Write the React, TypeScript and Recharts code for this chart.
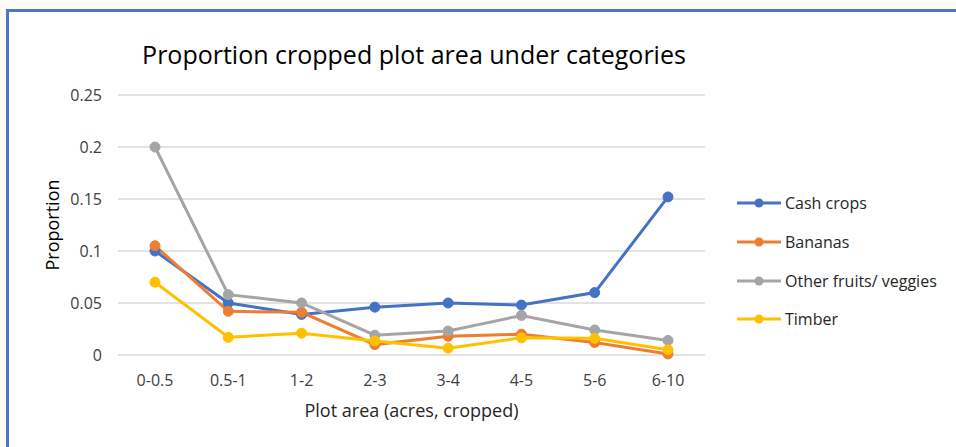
import { LineChart, Line, XAxis, YAxis, CartesianGrid } from 'recharts';

const categories = ['0-0.5', '0.5-1', '1-2', '2-3', '3-4', '4-5', '5-6', '6-10'];
const cashCrops = [0.1, 0.05, 0.039, 0.046, 0.05, 0.048, 0.06, 0.152];
const bananas = [0.105, 0.042, 0.041, 0.01, 0.018, 0.02, 0.012, 0.001];
const otherFruits = [0.2, 0.058, 0.05, 0.019, 0.023, 0.038, 0.024, 0.014];
const timber = [0.07, 0.017, 0.021, 0.0135, 0.0065, 0.0165, 0.016, 0.005];
const yTicks = [0, 0.05, 0.1, 0.15, 0.2, 0.25];

const series = [
  { key: 'cash', name: 'Cash crops', color: '#4472C4', values: cashCrops },
  { key: 'bananas', name: 'Bananas', color: '#ED7D31', values: bananas },
  { key: 'other', name: 'Other fruits/ veggies', color: '#A5A5A5', values: otherFruits },
  { key: 'timber', name: 'Timber', color: '#FFC000', values: timber },
];

const data = categories.map((cat, i) => {
  const row: Record<string, string | number> = { cat };
  series.forEach((s) => (row[s.key] = s.values[i]));
  return row;
});

const font = '"Open Sans", sans-serif';

// legend drawn as plain html to the right of the plot
const LegendBox = () => (
  <div style={{ position: 'absolute', left: 736, top: 184, fontFamily: font, fontSize: 16, color: '#262626' }}>
    {series.map((s) => (
      <div key={s.key} style={{ display: 'flex', alignItems: 'center', height: 38.7 }}>
        <svg width={46} height={12} style={{ marginRight: 3 }}>
          <line x1={1} y1={6} x2={45} y2={6} stroke={s.color} strokeWidth={3} />
          <circle cx={23} cy={6} r={4.5} fill={s.color} />
        </svg>
        <span>{s.name}</span>
      </div>
    ))}
  </div>
);

export default function App() {
  return (
    <div style={{ position: 'fixed', left: 0, top: 0, width: 956, height: 447, background: '#FFFDF6', overflow: 'hidden' }}>
      <div
        style={{
          position: 'absolute',
          left: 6,
          top: 9,
          width: 960,
          height: 450,
          background: '#fff',
          borderLeft: '3px solid #4A78CF',
          borderTop: '3px solid #4A78CF',
        }}
      />
      <div
        style={{
          position: 'absolute',
          left: 0,
          top: 37,
          width: 828,
          textAlign: 'center',
          fontFamily: font,
          fontSize: 25,
          color: '#000',
        }}
      >
        Proportion cropped plot area under categories
      </div>
      <div style={{ position: 'absolute', left: 0, top: 0 }}>
        <LineChart width={956} height={447} data={data} margin={{ top: 95, right: 251, bottom: 62, left: 58 }}>
          <CartesianGrid vertical={false} stroke="#D9D9D9" strokeWidth={1.5} />
          <XAxis
            dataKey="cat"
            axisLine={false}
            tickLine={false}
            tickMargin={14}
            height={30}
            interval={0}
            padding={{ left: 37, right: 37 }}
            tick={{ fontSize: 16, fontFamily: font, fill: '#404040' }}
            label={{ value: 'Plot area (acres, cropped)', position: 'insideBottom', offset: -32, fontSize: 18, fontFamily: font, fill: '#262626' }}
          />
          <YAxis
            width={60}
            domain={[0, 0.25]}
            ticks={yTicks}
            axisLine={false}
            tickLine={false}
            tickMargin={10}
            tick={{ fontSize: 16, fontFamily: font, fill: '#404040' }}
          />
          {series.map((s) => (
            <Line
              key={s.key}
              dataKey={s.key}
              name={s.name}
              stroke={s.color}
              strokeWidth={3}
              dot={{ r: 5, fill: s.color, stroke: s.color, strokeWidth: 1 }}
              isAnimationActive={false}
            />
          ))}
        </LineChart>
      </div>
      <div
        style={{
          position: 'absolute',
          left: 52,
          top: 225,
          transform: 'translate(-50%, -50%) rotate(-90deg)',
          fontFamily: font,
          fontSize: 18,
          color: '#000',
          whiteSpace: 'nowrap',
        }}
      >
        Proportion
      </div>
      <LegendBox />
    </div>
  );
}
